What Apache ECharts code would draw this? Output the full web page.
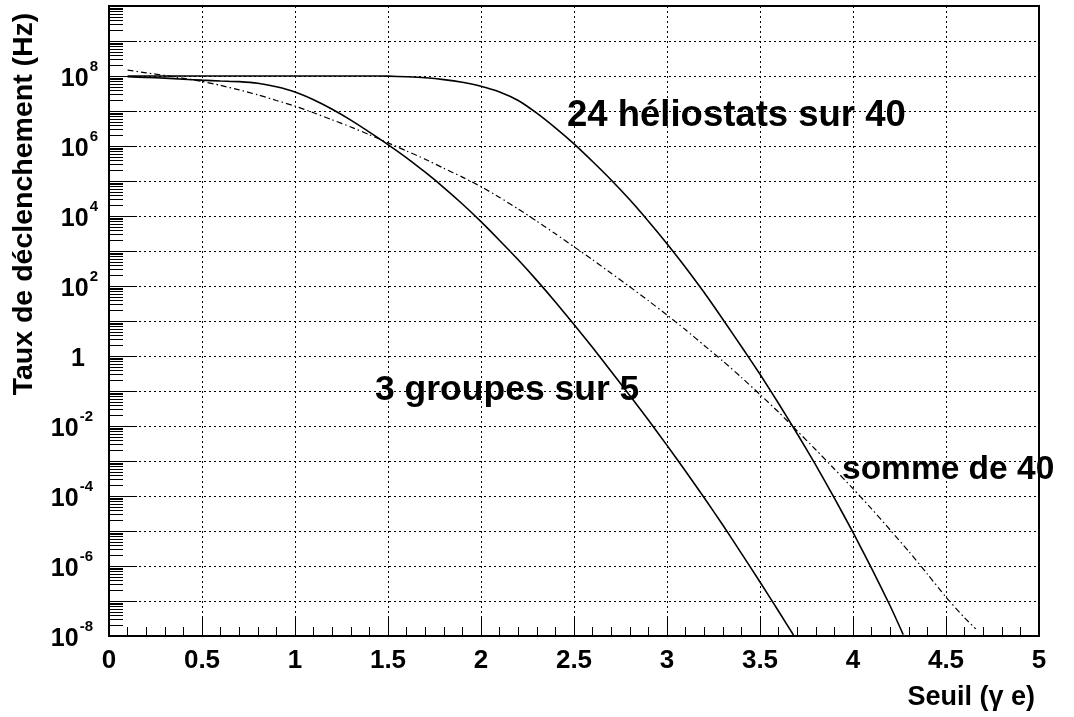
<!DOCTYPE html>
<html>
<head>
<meta charset="utf-8">
<script src="https://cdn.jsdelivr.net/npm/echarts@6/dist/echarts.min.js"></script>
<style>
  html, body { margin: 0; padding: 0; background: #fff; }
  #chart { width: 1074px; height: 717px; }
</style>
</head>
<body>
<div id="chart"></div>
<script>
// Trigger rate versus threshold (gamma e), log scale
const FONT = '"Liberation Sans", Arial, Helvetica, sans-serif';

// Threshold values (gamma e) for each curve
const seuilHelio = [0.1, 0.2, 0.3, 0.4, 0.5, 0.6, 0.7, 0.8, 0.9, 1.0,
  1.1, 1.2, 1.3, 1.4, 1.5, 1.6, 1.7, 1.8, 1.9, 2.0,
  2.1, 2.2, 2.3, 2.4, 2.5, 2.6, 2.7, 2.8, 2.9, 3.0,
  3.1, 3.2, 3.3, 3.4, 3.5, 3.6, 3.7, 3.8, 3.9, 4.0,
  4.1, 4.2, 4.27];
// "24 héliostats sur 40" trigger rate (Hz)
const tauxHelio = [1.0e8, 1.0e8, 1.0e8, 1.0e8, 1.0e8, 1.0e8, 1.0e8, 1.0e8, 1.0e8, 1.0e8,
  1.0e8, 1.0e8, 1.0e8, 1.0e8, 9.9e7, 9.5e7, 8.9e7, 7.9e7, 6.6e7, 5.1e7,
  3.5e7, 2.0e7, 8.7e6, 3.3e6, 1.15e6, 3.6e5, 1.07e5, 2.9e4, 7.1e3, 1.62e3,
  3.4e2, 65, 11.2, 1.86, 0.30, 4.4e-2, 6.0e-3, 7.6e-4, 8.7e-5, 9.1e-6,
  8.5e-7, 7.2e-8, 1.1e-8];

const seuilGroupes = [0.1, 0.2, 0.3, 0.4, 0.5, 0.6, 0.7, 0.8, 0.9, 1.0,
  1.1, 1.2, 1.3, 1.4, 1.5, 1.6, 1.7, 1.8, 1.9, 2.0,
  2.1, 2.2, 2.3, 2.4, 2.5, 2.6, 2.7, 2.8, 2.9, 3.0,
  3.1, 3.2, 3.3, 3.4, 3.5, 3.6, 3.68];
// "3 groupes sur 5" trigger rate (Hz)
const tauxGroupes = [9.5e7, 9.1e7, 8.7e7, 8.1e7, 7.6e7, 7.2e7, 6.9e7, 6.2e7, 4.9e7, 3.5e7,
  2.1e7, 1.12e7, 5.5e6, 2.5e6, 1.1e6, 4.6e5, 1.78e5, 6.5e4, 2.2e4, 6.9e3,
  2.0e3, 5.6e2, 1.45e2, 35, 7.9, 1.74, 0.36, 7.4e-2, 1.48e-2, 2.8e-3,
  5.1e-4, 8.9e-5, 1.48e-5, 2.3e-6, 3.5e-7, 5.1e-8, 1.07e-8];

const seuilSomme = [0.1, 0.2, 0.3, 0.4, 0.5, 0.6, 0.7, 0.8, 0.9, 1.0,
  1.1, 1.2, 1.3, 1.4, 1.5, 1.6, 1.7, 1.8, 1.9, 2.0,
  2.1, 2.2, 2.3, 2.4, 2.5, 2.6, 2.7, 2.8, 2.9, 3.0,
  3.1, 3.2, 3.3, 3.4, 3.5, 3.6, 3.7, 3.8, 3.9, 4.0,
  4.1, 4.2, 4.3, 4.4, 4.5, 4.6, 4.66];
// "somme de 40" trigger rate (Hz)
const tauxSomme = [1.48e8, 1.23e8, 1.04e8, 8.6e7, 7.0e7, 5.4e7, 4.0e7, 2.9e7, 2.0e7, 1.38e7,
  8.9e6, 5.6e6, 3.5e6, 2.1e6, 1.23e6, 7.2e5, 4.2e5, 2.3e5, 1.29e5, 6.9e4,
  3.4e4, 1.58e4, 7.1e3, 3.1e3, 1.32e3, 5.6e2, 2.3e2, 95, 38, 14.8,
  5.6, 2.0, 0.72, 0.245, 7.9e-2, 2.5e-2, 7.2e-3, 2.1e-3, 5.9e-4, 1.62e-4,
  4.3e-5, 1.07e-5, 2.6e-6, 5.9e-7, 1.29e-7, 3.3e-8, 1.6e-8];

// Decades that carry a label on the rate axis
const yLabelExponents = [-8, -6, -4, -2, 0, 2, 4, 6, 8];
// Mantissas of the minor log ticks inside each decade
const minorMantissas = [2, 3, 4, 5, 6, 7, 8, 9];

const xTitle = 'Seuil (\u03b3 e)';
const yTitle = 'Taux de d\u00e9clenchement (Hz)';
const curveLabels = ['24 h\u00e9liostats sur 40', '3 groupes sur 5', 'somme de 40'];

const pairs = (xs, ys) => xs.map((x, i) => [x, ys[i]]);

const chart = echarts.init(document.getElementById('chart'), null, { renderer: 'canvas' });

const dotted = { color: '#000', width: 1, type: [2, 3] };
const solidCurve = { color: '#000', width: 1.6, type: 'solid' };

chart.setOption({
  animation: false,
  backgroundColor: '#fff',
  grid: {
    left: 109, right: 35, top: 6, bottom: 81,
    show: true, borderColor: '#000', borderWidth: 2, backgroundColor: 'transparent'
  },
  xAxis: {
    type: 'value', min: 0, max: 5, interval: 0.5,
    axisLine: { show: true, onZero: false, lineStyle: { color: '#000', width: 2 } },
    axisTick: { show: true, inside: true, length: 18, lineStyle: { color: '#000', width: 1 } },
    minorTick: { show: true, splitNumber: 5, length: 9, lineStyle: { color: '#000', width: 1 } },
    splitLine: { show: true, lineStyle: dotted },
    axisLabel: {
      color: '#000', fontSize: 26, fontWeight: 'bold', fontFamily: FONT, margin: 12
    }
  },
  yAxis: {
    type: 'log', logBase: 10, min: 1e-8, max: 1e10, interval: 1,
    axisLine: { show: true, lineStyle: { color: '#000', width: 2 } },
    axisTick: { show: true, inside: true, length: 28, lineStyle: { color: '#000', width: 1 } },
    splitLine: { show: true, lineStyle: dotted },
    axisLabel: {
      margin: 11,
      formatter: function (v) {
        const e = Math.round(Math.log10(v));
        if (yLabelExponents.indexOf(e) < 0) return '';
        if (e === 0) return '{one|1}';
        return '{b|10}{' + (e < 0 ? 'en' : 'e') + '|' + e + '}';
      },
      rich: {
        b: { fontSize: 25, fontWeight: 'bold', fontFamily: FONT, color: '#000', lineHeight: 40, padding: [6, 0, 0, 0] },
        one: { fontSize: 25, fontWeight: 'bold', fontFamily: FONT, color: '#000', lineHeight: 40, padding: [6, 13, 0, 0] },
        e: { fontSize: 15, fontWeight: 'bold', fontFamily: FONT, color: '#000', lineHeight: 10, verticalAlign: 'top', padding: [3, 0, 0, 1] },
        en: { fontSize: 15, fontWeight: 'bold', fontFamily: FONT, color: '#000', lineHeight: 10, verticalAlign: 'top', padding: [3, 5, 0, 1] }
      }
    }
  },
  series: [
    {
      name: curveLabels[0], type: 'line', data: pairs(seuilHelio, tauxHelio),
      showSymbol: false, symbol: 'none', lineStyle: solidCurve, z: 3, smooth: 0.2
    },
    {
      name: curveLabels[1], type: 'line', data: pairs(seuilGroupes, tauxGroupes),
      showSymbol: false, symbol: 'none', lineStyle: solidCurve, z: 3, smooth: 0.2
    },
    {
      name: curveLabels[2], type: 'line', data: pairs(seuilSomme, tauxSomme),
      showSymbol: false, symbol: 'none', smooth: 0.2,
      lineStyle: { color: '#000', width: 1.2, type: [6, 3, 1.5, 3] }, z: 3
    }
  ]
});

// Minor log ticks (2..9 x 10^n) drawn inside the left axis, placed through the axis scale
const graphics = [];
for (let e = -8; e < 10; e++) {
  minorMantissas.forEach(function (k) {
    const p = chart.convertToPixel({ gridIndex: 0 }, [0, k * Math.pow(10, e)]);
    const y = Math.round(p[1]) + 0.5;
    graphics.push({
      type: 'line', silent: true, z: 5,
      shape: { x1: p[0], y1: y, x2: p[0] + 14, y2: y },
      style: { stroke: '#000', lineWidth: 1 }
    });
  });
}

const textStyle = (size) => ({ fill: '#000', fontSize: size, fontWeight: 'bold', fontFamily: FONT });

// Axis titles
graphics.push({
  type: 'text', x: 24, y: 204, rotation: Math.PI / 2, silent: true,
  style: Object.assign(textStyle(28.5), { text: yTitle, align: 'center', verticalAlign: 'middle' })
});
graphics.push({
  type: 'text', x: 1035, y: 698, silent: true,
  style: Object.assign(textStyle(27), { text: xTitle, align: 'right', verticalAlign: 'middle' })
});

// Curve annotations
graphics.push({
  type: 'text', x: 567, y: 116, silent: true, z: 10,
  style: Object.assign(textStyle(36.5), { text: curveLabels[0], align: 'left', verticalAlign: 'middle' })
});
graphics.push({
  type: 'text', x: 375, y: 390, silent: true, z: 10,
  style: Object.assign(textStyle(35.5), { text: curveLabels[1], align: 'left', verticalAlign: 'middle' })
});
graphics.push({
  type: 'text', x: 842, y: 470, silent: true, z: 10,
  style: Object.assign(textStyle(33.5), { text: curveLabels[2], align: 'left', verticalAlign: 'middle' })
});

chart.setOption({ graphic: graphics });
</script>
</body>
</html>
